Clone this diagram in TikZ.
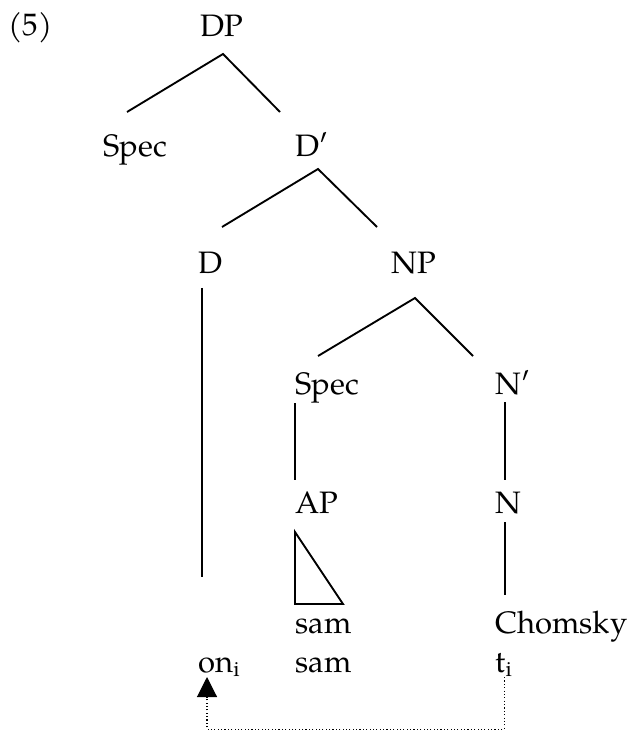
\documentclass[tikz,border=0pt]{standalone}
\usepackage{fontspec}
\setmainfont{TeX Gyre Pagella}
\usetikzlibrary{arrows.meta}
\begin{document}
\begin{tikzpicture}[
    x=0.4pt, y=-0.4pt,
    every node/.style = {anchor=base west, inner sep=0pt, font=\fontsize{12.4}{15}\selectfont},
    branch/.style = {line width=0.75pt},
    movement/.style = {line width=0.45pt, dash pattern=on 0.45pt off 0.9pt,
                       -{Triangle[width=8pt,length=8pt]}}
    ]
    \useasboundingbox (0,0) rectangle (633,731);
    % labels
    \node (ex)      at (8,36)    {(5)};
    \node (DP)      at (200,37)  {DP};
    \node (SpecD)   at (103,157) {Spec};
    \node (Dbar)    at (295,157) {D′};
    \node (D)       at (198,274) {D};
    \node (NP)      at (391,274) {NP};
    \node (SpecN)   at (295,394) {Spec};
    \node (Nbar)    at (495,394) {N′};
    \node (AP)      at (295,513) {AP};
    \node (N)       at (495,513) {N};
    \node (sam)     at (295,633) {sam};
    \node (Chomsky) at (495,633) {Chomsky};
    \node (on)      at (198,672) {on\textsubscript{i}};
    \node (gloss)   at (295,672) {sam};
    \node (trace)   at (495,672) {t\textsubscript{i}};
    % branch points
    \coordinate (DP-fork)   at (223,54);
    \coordinate (SpecD-top) at (127,112);
    \coordinate (Dbar-top)  at (280,112);
    \coordinate (Dbar-fork) at (318,169);
    \coordinate (D-top)     at (222,227);
    \coordinate (NP-top)    at (377,227);
    \coordinate (NP-fork)   at (415,298);
    \coordinate (SpecN-top) at (318,356);
    \coordinate (Nbar-top)  at (473,356);
    \coordinate (D-foot)    at (202,288);
    \coordinate (on-top)    at (202,577);
    \coordinate (SpecN-foot) at (295,403);
    \coordinate (AP-top)    at (295,480);
    \coordinate (Nbar-foot) at (505,402);
    \coordinate (N-top)     at (505,480);
    \coordinate (N-foot)    at (505,522);
    \coordinate (Chomsky-top) at (505,595);
    \coordinate (landing)   at (207,677);
    % tree
    \draw[branch] (SpecD-top) -- (DP-fork) -- (Dbar-top);
    \draw[branch] (D-top) -- (Dbar-fork) -- (NP-top);
    \draw[branch] (SpecN-top) -- (NP-fork) -- (Nbar-top);
    \draw[branch] (D-foot) -- (on-top);
    \draw[branch] (SpecN-foot) -- (AP-top);
    \draw[branch] (Nbar-foot) -- (N-top);
    \draw[branch] (N-foot) -- (Chomsky-top);
    \draw[branch] (295,532) -- (295,604) -- (343,604) -- cycle;
    % movement
    \draw[movement] (trace.south) -- ++(0,52) -| (landing);
\end{tikzpicture}
\end{document}
